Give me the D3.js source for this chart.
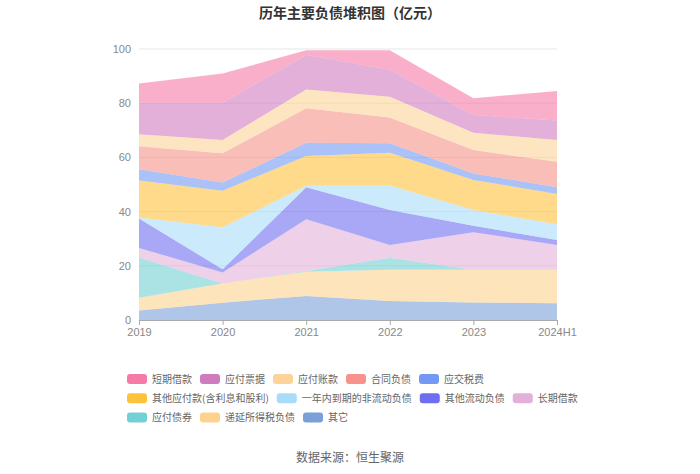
<!DOCTYPE html>
<html lang="zh">
<head>
<meta charset="UTF-8">
<script src="https://d3js.org/d3.v7.min.js"></script>
<style>
    body { margin: 0; background: #fff; font-family: "Noto Sans CJK SC", "Noto Sans", sans-serif; }
    .tick text { fill: #888; font-size: 11px; }
</style>
</head>
<body>
<svg id="chart" width="700" height="474"></svg>
<script>
    // 类目和数据（亿元），顺序：图例顺序（堆积时从下往上反过来）
    const years = ["2019", "2020", "2021", "2022", "2023", "2024H1"];
    const seriesNames = ["短期借款", "应付票据", "应付账款", "合同负债", "应交税费",
        "其他应付款(含利息和股利)", "一年内到期的非流动负债", "其他流动负债", "长期借款",
        "应付债券", "递延所得税负债", "其它"];
    const colors = ["#f57aa6", "#cf7cbf", "#fdd39a", "#f7938a", "#7399f5",
        "#fdc23c", "#a8dcf8", "#6f6ef2", "#e2b0d8", "#73d0d4", "#fdd28e", "#7ba0d8"];

    const dqjk = [7.1, 10.8, 1.7, 7.2, 6.2, 10.9];      // 短期借款
    const yfpj = [11.7, 13.8, 12.7, 9.9, 6.5, 7.2];     // 应付票据
    const yfzk = [4.4, 4.9, 7.0, 7.7, 6.4, 8.0];        // 应付账款
    const htfz = [8.5, 10.8, 12.7, 9.5, 8.6, 9.4];      // 合同负债
    const yjsf = [4.1, 3.0, 4.9, 3.5, 2.4, 2.5];        // 应交税费
    const qtyfk = [13.7, 13.5, 11.0, 12.1, 11.1, 11.2]; // 其他应付款
    const ynndq = [0.3, 15.5, 0.5, 9.0, 5.8, 5.8];      // 一年内到期的非流动负债
    const qtldfz = [10.9, 1.2, 11.8, 12.9, 2.4, 1.8];   // 其他流动负债
    const cqjk = [3.5, 4.0, 19.1, 4.7, 13.9, 9.2];      // 长期借款
    const yfzq = [14.9, 0, 0.3, 4.5, 0, 0];             // 应付债券
    const dysds = [4.7, 7.1, 8.9, 11.5, 12.0, 12.3];    // 递延所得税负债
    const qita = [3.5, 6.4, 8.9, 7.0, 6.5, 6.2];        // 其它

    const yTicks = [0, 20, 40, 60, 80, 100];

    const valuesList = [dqjk, yfpj, yfzk, htfz, yjsf, qtyfk, ynndq, qtldfz, cqjk, yfzq, dysds, qita];

    const rows = years.map((y, i) => {
        const r = { year: y };
        seriesNames.forEach((n, k) => r[n] = valuesList[k][i]);
        return r;
    });

    const svg = d3.select("#chart");
    const margin = { top: 49, left: 139, right: 143, bottom: 154 };
    const width = 700 - margin.left - margin.right,
          height = 474 - margin.top - margin.bottom;

    svg.append("text")
        .attr("x", 350).attr("y", 17.5)
        .attr("text-anchor", "middle")
        .style("font-size", "14px").style("font-weight", "bold").style("fill", "#333")
        .text("历年主要负债堆积图（亿元）");

    const g = svg.append("g").attr("transform", `translate(${margin.left},${margin.top})`);

    const x = d3.scalePoint().domain(years).range([0, width]);
    const y = d3.scaleLinear().domain([0, 100]).range([height, 0]);

    // 网格线
    g.append("g")
        .selectAll("line")
        .data(yTicks.slice(1))
        .enter().append("line")
        .attr("x1", 0).attr("x2", width)
        .attr("y1", d => y(d)).attr("y2", d => y(d))
        .attr("stroke", "#e6e6e6");

    const stackKeys = seriesNames.slice().reverse();
    const stack = d3.stack().keys(stackKeys)(rows);

    const area = d3.area()
        .x(d => x(d.data.year))
        .y0(d => y(d[0]))
        .y1(d => y(d[1]));

    g.selectAll(".layer")
        .data(stack)
        .enter().append("path")
        .attr("class", "layer")
        .attr("d", area)
        .attr("fill", d => colors[seriesNames.indexOf(d.key)])
        .attr("fill-opacity", 0.6);

    const yAxis = g.append("g")
        .call(d3.axisLeft(y).tickValues(yTicks).tickSize(0).tickPadding(8));
    yAxis.select(".domain").remove();

    const xAxis = g.append("g")
        .attr("transform", `translate(0,${height})`)
        .call(d3.axisBottom(x).tickSize(5).tickPadding(3));
    xAxis.select(".domain").attr("stroke", "#aaa");
    xAxis.selectAll(".tick line").attr("stroke", "#aaa");

    // 图例
    const legendRows = [[0, 1, 2, 3, 4], [5, 6, 7, 8], [9, 10, 11]];
    const legend = svg.append("g");
    legendRows.forEach((row, ri) => {
        let lx = 127;
        const ly = 379 + ri * 19.3;
        row.forEach(k => {
            const item = legend.append("g").attr("transform", `translate(${lx},${ly})`);
            item.append("rect")
                .attr("x", 0).attr("y", -5)
                .attr("width", 20).attr("height", 10)
                .attr("rx", 3)
                .attr("fill", colors[k]);
            const t = item.append("text")
                .attr("x", 25).attr("y", 3.6)
                .style("font-size", "10px").style("fill", "#666")
                .text(seriesNames[k]);
            lx += 25 + t.node().getComputedTextLength() + 8;
        });
    });

    svg.append("text")
        .attr("x", 350).attr("y", 461.5)
        .attr("text-anchor", "middle")
        .style("font-size", "12px").style("fill", "#666")
        .text("数据来源：恒生聚源");
</script>
</body>
</html>
